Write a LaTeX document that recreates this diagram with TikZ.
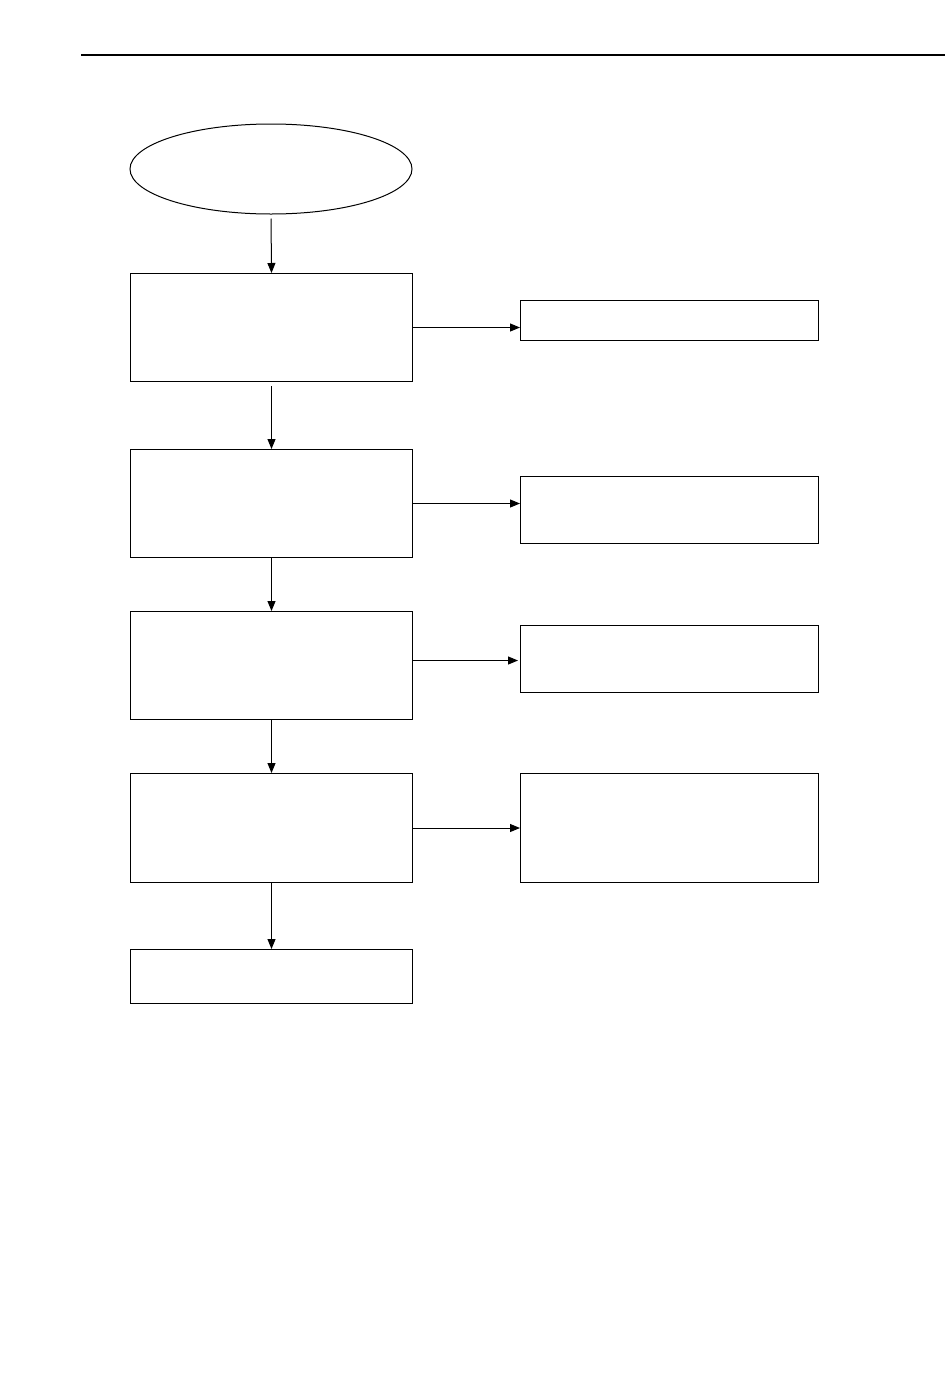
\documentclass[tikz,border=0pt]{standalone}
\usetikzlibrary{arrows.meta,shapes.geometric}
\begin{document}
\begin{tikzpicture}[x=1pt,y=-1pt,
  box/.style={draw,line width=1pt,rectangle,inner sep=0pt,anchor=north west},
  conn/.style={line width=1pt,-{Triangle[length=10pt,width=8pt]}},
  downconn/.style={conn,shorten <=4pt}]
\path[use as bounding box,fill=white] (0,0) rectangle (950,1379);
\draw[line width=1.6pt] (81,55) -- (945,55);
\node[draw,line width=1pt,ellipse,minimum width=282pt,minimum height=90pt,inner sep=0pt] (start) at (271,169) {};
\node[box,minimum width=282pt,minimum height=108pt] (b1) at (130,273) {};
\node[box,minimum width=282pt,minimum height=108pt] (b2) at (130,449) {};
\node[box,minimum width=282pt,minimum height=108pt] (b3) at (130,611) {};
\node[box,minimum width=282pt,minimum height=109pt] (b4) at (130,773) {};
\node[box,minimum width=282pt,minimum height=54pt] (b5) at (130,949) {};
\node[box,minimum width=298pt,minimum height=40pt] (r1) at (520,300) {};
\node[box,minimum width=298pt,minimum height=67pt] (r2) at (520,476) {};
\node[box,minimum width=298pt,minimum height=67pt] (r3) at (520,625) {};
\node[box,minimum width=298pt,minimum height=109pt] (r4) at (520,773) {};
\draw[downconn] (start.south) -- (b1.north);
\draw[downconn] (b1.south) -- (b2.north);
\draw[conn] (b2.south) -- (b3.north);
\draw[conn] (b3.south) -- (b4.north);
\draw[conn] (b4.south) -- (b5.north);
\draw[conn] (b1.east) -- (b1.east -| r1.west);
\draw[conn] (b2.east) -- (b2.east -| r2.west);
\draw[conn] ([yshift=5pt]b3.east) -- ([xshift=-2pt,yshift=5pt]b3.east -| r3.west);
\draw[conn] (b4.east) -- (b4.east -| r4.west);
\end{tikzpicture}
\end{document}
